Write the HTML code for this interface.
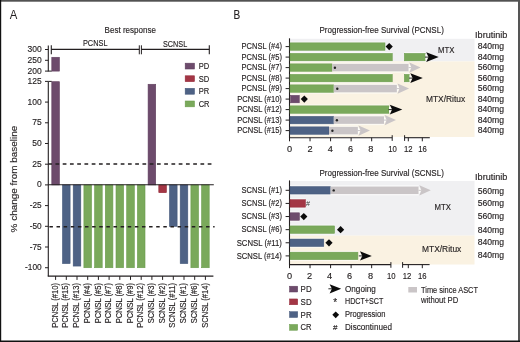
<!DOCTYPE html>
<html><head><meta charset="utf-8"><style>
html,body{margin:0;padding:0;background:#fff;}
body{width:520px;height:342px;overflow:hidden;position:relative;}
svg{position:absolute;left:0;top:0;will-change:transform;}
text{font-family:"Liberation Sans",sans-serif;fill:#231f20;stroke:#231f20;stroke-width:0.15px;}
</style></head><body>
<svg width="520" height="342" viewBox="0 0 520 342">
<rect x="0" y="0" width="520" height="342" fill="#fff"/>
<text x="9.7" y="18.9" font-size="12.6" text-anchor="start" textLength="7.6" lengthAdjust="spacingAndGlyphs" style="stroke-width:0">A</text>
<text x="104.6" y="33.3" font-size="9.3" text-anchor="start" textLength="51.4" lengthAdjust="spacingAndGlyphs" >Best response</text>
<text x="82.9" y="46.3" font-size="9" text-anchor="start" textLength="24.6" lengthAdjust="spacingAndGlyphs" >PCNSL</text>
<text x="163" y="46.5" font-size="9" text-anchor="start" textLength="24.2" lengthAdjust="spacingAndGlyphs" >SCNSL</text>
<line x1="51.3" y1="49.4" x2="139.3" y2="49.4" stroke="#231f20" stroke-width="1.1" />
<line x1="141.3" y1="49.4" x2="209.3" y2="49.4" stroke="#231f20" stroke-width="1.1" />
<line x1="51.3" y1="45.3" x2="51.3" y2="54.3" stroke="#231f20" stroke-width="1.1" />
<line x1="139.3" y1="45.3" x2="139.3" y2="54.3" stroke="#231f20" stroke-width="1" />
<line x1="141.4" y1="45.3" x2="141.4" y2="54.3" stroke="#231f20" stroke-width="1" />
<line x1="209.3" y1="45.3" x2="209.3" y2="54.3" stroke="#231f20" stroke-width="1.1" />
<line x1="48.3" y1="81.4" x2="48.3" y2="276.3" stroke="#231f20" stroke-width="1.1" />
<line x1="48.3" y1="45.6" x2="48.3" y2="71.4" stroke="#231f20" stroke-width="1.1" />
<line x1="45.0" y1="49.5" x2="48.3" y2="49.5" stroke="#231f20" stroke-width="1" />
<text x="41.7" y="52.05" font-size="9.3" text-anchor="end" textLength="14.16" lengthAdjust="spacingAndGlyphs" >300</text>
<line x1="45.0" y1="60.3" x2="48.3" y2="60.3" stroke="#231f20" stroke-width="1" />
<text x="41.7" y="62.849999999999994" font-size="9.3" text-anchor="end" textLength="14.16" lengthAdjust="spacingAndGlyphs" >250</text>
<line x1="45.0" y1="71.1" x2="48.3" y2="71.1" stroke="#231f20" stroke-width="1" />
<text x="41.7" y="73.64999999999999" font-size="9.3" text-anchor="end" textLength="14.16" lengthAdjust="spacingAndGlyphs" >200</text>
<line x1="48.3" y1="71.1" x2="51.8" y2="71.1" stroke="#231f20" stroke-width="1" />
<line x1="48.3" y1="81.4" x2="51.8" y2="81.4" stroke="#231f20" stroke-width="1" />
<line x1="45.0" y1="81.375" x2="48.3" y2="81.375" stroke="#231f20" stroke-width="1" />
<text x="41.7" y="83.925" font-size="9.3" text-anchor="end" textLength="14.16" lengthAdjust="spacingAndGlyphs" >125</text>
<line x1="45.0" y1="102.08" x2="48.3" y2="102.08" stroke="#231f20" stroke-width="1" />
<text x="41.7" y="104.63" font-size="9.3" text-anchor="end" textLength="14.16" lengthAdjust="spacingAndGlyphs" >100</text>
<line x1="45.0" y1="122.785" x2="48.3" y2="122.785" stroke="#231f20" stroke-width="1" />
<text x="41.7" y="125.335" font-size="9.3" text-anchor="end" textLength="9.44" lengthAdjust="spacingAndGlyphs" >75</text>
<line x1="45.0" y1="143.49" x2="48.3" y2="143.49" stroke="#231f20" stroke-width="1" />
<text x="41.7" y="146.04000000000002" font-size="9.3" text-anchor="end" textLength="9.44" lengthAdjust="spacingAndGlyphs" >50</text>
<line x1="45.0" y1="164.195" x2="48.3" y2="164.195" stroke="#231f20" stroke-width="1" />
<text x="41.7" y="166.745" font-size="9.3" text-anchor="end" textLength="9.44" lengthAdjust="spacingAndGlyphs" >25</text>
<line x1="45.0" y1="184.9" x2="48.3" y2="184.9" stroke="#231f20" stroke-width="1" />
<text x="41.7" y="187.45000000000002" font-size="9.3" text-anchor="end" textLength="4.72" lengthAdjust="spacingAndGlyphs" >0</text>
<line x1="45.0" y1="205.60500000000002" x2="48.3" y2="205.60500000000002" stroke="#231f20" stroke-width="1" />
<text x="41.7" y="208.15500000000003" font-size="9.3" text-anchor="end" textLength="11.94" lengthAdjust="spacingAndGlyphs" >-25</text>
<line x1="45.0" y1="226.31" x2="48.3" y2="226.31" stroke="#231f20" stroke-width="1" />
<text x="41.7" y="228.86" font-size="9.3" text-anchor="end" textLength="11.94" lengthAdjust="spacingAndGlyphs" >-50</text>
<line x1="45.0" y1="247.01500000000001" x2="48.3" y2="247.01500000000001" stroke="#231f20" stroke-width="1" />
<text x="41.7" y="249.56500000000003" font-size="9.3" text-anchor="end" textLength="11.94" lengthAdjust="spacingAndGlyphs" >-75</text>
<line x1="45.0" y1="267.72" x2="48.3" y2="267.72" stroke="#231f20" stroke-width="1" />
<text x="41.7" y="270.27000000000004" font-size="9.3" text-anchor="end" textLength="16.66" lengthAdjust="spacingAndGlyphs" >-100</text>
<text transform="translate(16.8,232.4) rotate(-90)" font-size="9.2" textLength="106.7" lengthAdjust="spacingAndGlyphs">% change from baseline</text>
<rect x="51.80" y="81.70" width="7.60" height="103.20" fill="#6d4b6c" stroke="#5f3e5e" stroke-width="0.6"/>
<rect x="51.80" y="57.28" width="7.60" height="13.82" fill="#6d4b6c" stroke="#5f3e5e" stroke-width="0.6"/>
<rect x="62.50" y="184.90" width="7.60" height="78.68" fill="#4e6285" stroke="#435779" stroke-width="0.6"/>
<rect x="73.20" y="184.90" width="7.60" height="81.16" fill="#4e6285" stroke="#435779" stroke-width="0.6"/>
<rect x="83.90" y="184.90" width="7.60" height="82.82" fill="#7aa95b" stroke="#6a9c4c" stroke-width="0.6"/>
<rect x="94.60" y="184.90" width="7.60" height="82.82" fill="#7aa95b" stroke="#6a9c4c" stroke-width="0.6"/>
<rect x="105.30" y="184.90" width="7.60" height="82.82" fill="#7aa95b" stroke="#6a9c4c" stroke-width="0.6"/>
<rect x="116.00" y="184.90" width="7.60" height="82.82" fill="#7aa95b" stroke="#6a9c4c" stroke-width="0.6"/>
<rect x="126.70" y="184.90" width="7.60" height="82.82" fill="#7aa95b" stroke="#6a9c4c" stroke-width="0.6"/>
<rect x="137.40" y="184.90" width="7.60" height="82.82" fill="#7aa95b" stroke="#6a9c4c" stroke-width="0.6"/>
<rect x="148.10" y="84.27" width="7.60" height="100.63" fill="#6d4b6c" stroke="#5f3e5e" stroke-width="0.6"/>
<rect x="158.80" y="184.90" width="7.60" height="7.79" fill="#a33645" stroke="#932838" stroke-width="0.6"/>
<rect x="169.50" y="184.90" width="7.60" height="41.41" fill="#4e6285" stroke="#435779" stroke-width="0.6"/>
<rect x="180.20" y="184.90" width="7.60" height="78.68" fill="#4e6285" stroke="#435779" stroke-width="0.6"/>
<rect x="190.90" y="184.90" width="7.60" height="82.82" fill="#7aa95b" stroke="#6a9c4c" stroke-width="0.6"/>
<rect x="201.60" y="184.90" width="7.60" height="82.82" fill="#7aa95b" stroke="#6a9c4c" stroke-width="0.6"/>
<line x1="48.2" y1="164.0" x2="211.6" y2="164.0" stroke="#231f20" stroke-width="1.5" stroke-dasharray="3.75 3.5"/>
<line x1="49.4" y1="226.8" x2="214.6" y2="226.8" stroke="#231f20" stroke-width="1.5" stroke-dasharray="3.5 3.62"/>
<line x1="48.3" y1="184.70000000000002" x2="213.8" y2="184.70000000000002" stroke="#231f20" stroke-width="1.1" />
<line x1="47.75" y1="276.1" x2="213.4" y2="276.1" stroke="#231f20" stroke-width="1.1" />
<line x1="55.599999999999994" y1="276.1" x2="55.599999999999994" y2="279.90000000000003" stroke="#231f20" stroke-width="1" />
<text transform="translate(57.70,283.0) rotate(-90)" font-size="9" text-anchor="end" textLength="44.7" lengthAdjust="spacingAndGlyphs">PCNSL (#10)</text>
<line x1="66.3" y1="276.1" x2="66.3" y2="279.90000000000003" stroke="#231f20" stroke-width="1" />
<text transform="translate(68.40,283.0) rotate(-90)" font-size="9" text-anchor="end" textLength="44.7" lengthAdjust="spacingAndGlyphs">PCNSL (#15)</text>
<line x1="76.99999999999999" y1="276.1" x2="76.99999999999999" y2="279.90000000000003" stroke="#231f20" stroke-width="1" />
<text transform="translate(79.10,283.0) rotate(-90)" font-size="9" text-anchor="end" textLength="44.7" lengthAdjust="spacingAndGlyphs">PCNSL (#13)</text>
<line x1="87.69999999999999" y1="276.1" x2="87.69999999999999" y2="279.90000000000003" stroke="#231f20" stroke-width="1" />
<text transform="translate(89.80,283.0) rotate(-90)" font-size="9" text-anchor="end" textLength="40.3" lengthAdjust="spacingAndGlyphs">PCNSL (#4)</text>
<line x1="98.39999999999999" y1="276.1" x2="98.39999999999999" y2="279.90000000000003" stroke="#231f20" stroke-width="1" />
<text transform="translate(100.50,283.0) rotate(-90)" font-size="9" text-anchor="end" textLength="40.3" lengthAdjust="spacingAndGlyphs">PCNSL (#5)</text>
<line x1="109.1" y1="276.1" x2="109.1" y2="279.90000000000003" stroke="#231f20" stroke-width="1" />
<text transform="translate(111.20,283.0) rotate(-90)" font-size="9" text-anchor="end" textLength="40.3" lengthAdjust="spacingAndGlyphs">PCNSL (#7)</text>
<line x1="119.79999999999998" y1="276.1" x2="119.79999999999998" y2="279.90000000000003" stroke="#231f20" stroke-width="1" />
<text transform="translate(121.90,283.0) rotate(-90)" font-size="9" text-anchor="end" textLength="40.3" lengthAdjust="spacingAndGlyphs">PCNSL (#8)</text>
<line x1="130.5" y1="276.1" x2="130.5" y2="279.90000000000003" stroke="#231f20" stroke-width="1" />
<text transform="translate(132.60,283.0) rotate(-90)" font-size="9" text-anchor="end" textLength="40.3" lengthAdjust="spacingAndGlyphs">PCNSL (#9)</text>
<line x1="141.2" y1="276.1" x2="141.2" y2="279.90000000000003" stroke="#231f20" stroke-width="1" />
<text transform="translate(143.30,283.0) rotate(-90)" font-size="9" text-anchor="end" textLength="44.7" lengthAdjust="spacingAndGlyphs">PCNSL (#12)</text>
<line x1="151.9" y1="276.1" x2="151.9" y2="279.90000000000003" stroke="#231f20" stroke-width="1" />
<text transform="translate(154.00,283.0) rotate(-90)" font-size="9" text-anchor="end" textLength="40.3" lengthAdjust="spacingAndGlyphs">SCNSL (#3)</text>
<line x1="162.60000000000002" y1="276.1" x2="162.60000000000002" y2="279.90000000000003" stroke="#231f20" stroke-width="1" />
<text transform="translate(164.70,283.0) rotate(-90)" font-size="9" text-anchor="end" textLength="40.3" lengthAdjust="spacingAndGlyphs">SCNSL (#2)</text>
<line x1="173.3" y1="276.1" x2="173.3" y2="279.90000000000003" stroke="#231f20" stroke-width="1" />
<text transform="translate(175.40,283.0) rotate(-90)" font-size="9" text-anchor="end" textLength="44.7" lengthAdjust="spacingAndGlyphs">SCNSL (#11)</text>
<line x1="184.0" y1="276.1" x2="184.0" y2="279.90000000000003" stroke="#231f20" stroke-width="1" />
<text transform="translate(186.10,283.0) rotate(-90)" font-size="9" text-anchor="end" textLength="40.3" lengthAdjust="spacingAndGlyphs">SCNSL (#1)</text>
<line x1="194.7" y1="276.1" x2="194.7" y2="279.90000000000003" stroke="#231f20" stroke-width="1" />
<text transform="translate(196.80,283.0) rotate(-90)" font-size="9" text-anchor="end" textLength="40.3" lengthAdjust="spacingAndGlyphs">SCNSL (#6)</text>
<line x1="205.39999999999998" y1="276.1" x2="205.39999999999998" y2="279.90000000000003" stroke="#231f20" stroke-width="1" />
<text transform="translate(207.50,283.0) rotate(-90)" font-size="9" text-anchor="end" textLength="44.7" lengthAdjust="spacingAndGlyphs">SCNSL (#14)</text>
<rect x="185.20" y="63.20" width="9.20" height="5.80" fill="#6d4b6c" stroke="#5f3e5e" stroke-width="0.6"/>
<text x="198.7" y="68.9" font-size="9.2" text-anchor="start" textLength="10.5" lengthAdjust="spacingAndGlyphs" >PD</text>
<rect x="185.20" y="75.80" width="9.20" height="5.80" fill="#a33645" stroke="#932838" stroke-width="0.6"/>
<text x="198.7" y="81.5" font-size="9.2" text-anchor="start" textLength="10.5" lengthAdjust="spacingAndGlyphs" >SD</text>
<rect x="185.20" y="88.40" width="9.20" height="5.80" fill="#4e6285" stroke="#435779" stroke-width="0.6"/>
<text x="198.7" y="94.10000000000001" font-size="9.2" text-anchor="start" textLength="10.5" lengthAdjust="spacingAndGlyphs" >PR</text>
<rect x="185.20" y="101.00" width="9.20" height="5.80" fill="#7aa95b" stroke="#6a9c4c" stroke-width="0.6"/>
<text x="198.7" y="106.7" font-size="9.2" text-anchor="start" textLength="10.8" lengthAdjust="spacingAndGlyphs" >CR</text>
<text x="233.5" y="18.9" font-size="12.6" text-anchor="start" textLength="6.7" lengthAdjust="spacingAndGlyphs" >B</text>
<text x="319.5" y="33.4" font-size="9.4" text-anchor="start" textLength="124.3" lengthAdjust="spacingAndGlyphs" >Progression-free Survival (PCNSL)</text>
<text x="475.1" y="37.7" font-size="9" text-anchor="start" textLength="32.3" lengthAdjust="spacingAndGlyphs" >Ibrutinib</text>
<rect x="290.00" y="38.80" width="184.50" height="22.60" fill="#f0f0f2"/>
<rect x="290.00" y="61.40" width="184.50" height="75.60" fill="#faf2e2"/>
<line x1="289.5" y1="38.3" x2="289.5" y2="138.2" stroke="#231f20" stroke-width="1.1" />
<line x1="285.6" y1="46.6" x2="289.5" y2="46.6" stroke="#231f20" stroke-width="1" />
<text x="281.9" y="49.300000000000004" font-size="9" text-anchor="end" textLength="40.3" lengthAdjust="spacingAndGlyphs" >PCNSL (#4)</text>
<text x="477.7" y="49.4" font-size="9" text-anchor="start" textLength="26.4" lengthAdjust="spacingAndGlyphs" >840mg</text>
<line x1="285.6" y1="57.1" x2="289.5" y2="57.1" stroke="#231f20" stroke-width="1" />
<text x="281.9" y="59.800000000000004" font-size="9" text-anchor="end" textLength="40.3" lengthAdjust="spacingAndGlyphs" >PCNSL (#5)</text>
<text x="477.7" y="59.9" font-size="9" text-anchor="start" textLength="26.4" lengthAdjust="spacingAndGlyphs" >840mg</text>
<line x1="285.6" y1="67.6" x2="289.5" y2="67.6" stroke="#231f20" stroke-width="1" />
<text x="281.9" y="70.3" font-size="9" text-anchor="end" textLength="40.3" lengthAdjust="spacingAndGlyphs" >PCNSL (#7)</text>
<text x="477.7" y="70.39999999999999" font-size="9" text-anchor="start" textLength="26.4" lengthAdjust="spacingAndGlyphs" >560mg</text>
<line x1="285.6" y1="78.1" x2="289.5" y2="78.1" stroke="#231f20" stroke-width="1" />
<text x="281.9" y="80.8" font-size="9" text-anchor="end" textLength="40.3" lengthAdjust="spacingAndGlyphs" >PCNSL (#8)</text>
<text x="477.7" y="80.89999999999999" font-size="9" text-anchor="start" textLength="26.4" lengthAdjust="spacingAndGlyphs" >560mg</text>
<line x1="285.6" y1="88.6" x2="289.5" y2="88.6" stroke="#231f20" stroke-width="1" />
<text x="281.9" y="91.3" font-size="9" text-anchor="end" textLength="40.3" lengthAdjust="spacingAndGlyphs" >PCNSL (#9)</text>
<text x="477.7" y="91.39999999999999" font-size="9" text-anchor="start" textLength="26.4" lengthAdjust="spacingAndGlyphs" >560mg</text>
<line x1="285.6" y1="99.1" x2="289.5" y2="99.1" stroke="#231f20" stroke-width="1" />
<text x="281.9" y="101.8" font-size="9" text-anchor="end" textLength="44.7" lengthAdjust="spacingAndGlyphs" >PCNSL (#10)</text>
<text x="477.7" y="101.89999999999999" font-size="9" text-anchor="start" textLength="26.4" lengthAdjust="spacingAndGlyphs" >840mg</text>
<line x1="285.6" y1="109.6" x2="289.5" y2="109.6" stroke="#231f20" stroke-width="1" />
<text x="281.9" y="112.3" font-size="9" text-anchor="end" textLength="44.7" lengthAdjust="spacingAndGlyphs" >PCNSL (#12)</text>
<text x="477.7" y="112.39999999999999" font-size="9" text-anchor="start" textLength="26.4" lengthAdjust="spacingAndGlyphs" >840mg</text>
<line x1="285.6" y1="120.1" x2="289.5" y2="120.1" stroke="#231f20" stroke-width="1" />
<text x="281.9" y="122.8" font-size="9" text-anchor="end" textLength="44.7" lengthAdjust="spacingAndGlyphs" >PCNSL (#13)</text>
<text x="477.7" y="122.89999999999999" font-size="9" text-anchor="start" textLength="26.4" lengthAdjust="spacingAndGlyphs" >840mg</text>
<line x1="285.6" y1="130.6" x2="289.5" y2="130.6" stroke="#231f20" stroke-width="1" />
<text x="281.9" y="133.29999999999998" font-size="9" text-anchor="end" textLength="44.7" lengthAdjust="spacingAndGlyphs" >PCNSL (#15)</text>
<text x="477.7" y="133.4" font-size="9" text-anchor="start" textLength="26.4" lengthAdjust="spacingAndGlyphs" >840mg</text>
<rect x="290.00" y="41.55" width="95.00" height="10.10" fill="#fff" fill-opacity="0.6"/>
<rect x="290.00" y="42.85" width="95.00" height="7.50" fill="#7aa95b" stroke="#6a9c4c" stroke-width="0.5"/>
<path d="M389.20,43.00 L392.80,46.60 L389.20,50.20 L385.60,46.60 Z" fill="#0b0b0b"/>
<rect x="290.00" y="52.05" width="102.30" height="10.10" fill="#fff" fill-opacity="0.6"/>
<rect x="290.00" y="53.35" width="102.30" height="7.50" fill="#7aa95b" stroke="#6a9c4c" stroke-width="0.5"/>
<rect x="404.30" y="52.05" width="21.20" height="10.10" fill="#fff" fill-opacity="0.6"/>
<rect x="404.30" y="53.35" width="21.20" height="7.50" fill="#7aa95b" stroke="#6a9c4c" stroke-width="0.5"/>
<path d="M425.40,53.20 L428.50,57.10 L425.40,61.00 Z" fill="#fdfdfb"/>
<path d="M426.20,52.15 L438.70,57.10 L426.20,62.05 L428.50,57.10 Z" fill="#0b0b0b"/>
<line x1="425.0" y1="57.1" x2="428.8" y2="57.1" stroke="#111" stroke-width="0.9" />
<rect x="290.00" y="62.55" width="42.20" height="10.10" fill="#fff" fill-opacity="0.6"/>
<rect x="290.00" y="63.85" width="42.20" height="7.50" fill="#7aa95b" stroke="#6a9c4c" stroke-width="0.5"/>
<rect x="332.20" y="62.55" width="76.60" height="10.10" fill="#fff" fill-opacity="0.6"/>
<rect x="332.20" y="63.85" width="76.60" height="7.50" fill="#cac5c7"/>
<path d="M408.70,63.70 L411.40,67.60 L408.70,71.50 Z" fill="#fdfdfb"/>
<path d="M409.30,62.50 L420.60,67.60 L409.30,72.70 L411.40,67.60 Z" fill="#cac5c7"/>
<line x1="408.5" y1="67.6" x2="411.70000000000005" y2="67.6" stroke="#cac5c7" stroke-width="1.0" />
<circle cx="334.90" cy="67.70" r="1.2" fill="#222"/>
<rect x="290.00" y="73.05" width="102.30" height="10.10" fill="#fff" fill-opacity="0.6"/>
<rect x="290.00" y="74.35" width="102.30" height="7.50" fill="#7aa95b" stroke="#6a9c4c" stroke-width="0.5"/>
<rect x="404.30" y="73.05" width="5.30" height="10.10" fill="#fff" fill-opacity="0.6"/>
<rect x="404.30" y="74.35" width="5.30" height="7.50" fill="#7aa95b" stroke="#6a9c4c" stroke-width="0.5"/>
<path d="M409.50,74.20 L412.60,78.10 L409.50,82.00 Z" fill="#fdfdfb"/>
<path d="M410.30,73.15 L422.80,78.10 L410.30,83.05 L412.60,78.10 Z" fill="#0b0b0b"/>
<line x1="409.1" y1="78.1" x2="412.90000000000003" y2="78.1" stroke="#111" stroke-width="0.9" />
<rect x="290.00" y="83.55" width="43.80" height="10.10" fill="#fff" fill-opacity="0.6"/>
<rect x="290.00" y="84.85" width="43.80" height="7.50" fill="#7aa95b" stroke="#6a9c4c" stroke-width="0.5"/>
<rect x="333.80" y="83.55" width="63.20" height="10.10" fill="#fff" fill-opacity="0.6"/>
<rect x="333.80" y="84.85" width="63.20" height="7.50" fill="#cac5c7"/>
<path d="M396.90,84.70 L399.60,88.60 L396.90,92.50 Z" fill="#fdfdfb"/>
<path d="M397.50,83.50 L409.10,88.60 L397.50,93.70 L399.60,88.60 Z" fill="#cac5c7"/>
<line x1="396.7" y1="88.6" x2="399.90000000000003" y2="88.6" stroke="#cac5c7" stroke-width="1.0" />
<circle cx="337.30" cy="88.70" r="1.2" fill="#222"/>
<rect x="290.50" y="94.05" width="8.80" height="10.10" fill="#fff" fill-opacity="0.6"/>
<rect x="290.50" y="95.35" width="8.80" height="7.50" fill="#6d4b6c" stroke="#5f3e5e" stroke-width="0.5"/>
<path d="M304.30,95.50 L307.90,99.10 L304.30,102.70 L300.70,99.10 Z" fill="#0b0b0b"/>
<rect x="290.00" y="104.55" width="99.10" height="10.10" fill="#fff" fill-opacity="0.6"/>
<rect x="290.00" y="105.85" width="99.10" height="7.50" fill="#7aa95b" stroke="#6a9c4c" stroke-width="0.5"/>
<path d="M389.00,105.70 L392.10,109.60 L389.00,113.50 Z" fill="#fdfdfb"/>
<path d="M389.80,104.65 L402.30,109.60 L389.80,114.55 L392.10,109.60 Z" fill="#0b0b0b"/>
<line x1="388.6" y1="109.6" x2="392.40000000000003" y2="109.6" stroke="#111" stroke-width="0.9" />
<rect x="290.00" y="115.05" width="43.80" height="10.10" fill="#fff" fill-opacity="0.6"/>
<rect x="290.00" y="116.35" width="43.80" height="7.50" fill="#4e6285" stroke="#435779" stroke-width="0.5"/>
<rect x="333.80" y="115.05" width="50.30" height="10.10" fill="#fff" fill-opacity="0.6"/>
<rect x="333.80" y="116.35" width="50.30" height="7.50" fill="#cac5c7"/>
<path d="M384.00,116.20 L386.70,120.10 L384.00,124.00 Z" fill="#fdfdfb"/>
<path d="M384.60,115.00 L396.00,120.10 L384.60,125.20 L386.70,120.10 Z" fill="#cac5c7"/>
<line x1="383.8" y1="120.1" x2="387.00000000000006" y2="120.1" stroke="#cac5c7" stroke-width="1.0" />
<circle cx="336.90" cy="120.20" r="1.2" fill="#222"/>
<rect x="290.00" y="125.55" width="39.00" height="10.10" fill="#fff" fill-opacity="0.6"/>
<rect x="290.00" y="126.85" width="39.00" height="7.50" fill="#4e6285" stroke="#435779" stroke-width="0.5"/>
<rect x="329.00" y="125.55" width="29.00" height="10.10" fill="#fff" fill-opacity="0.6"/>
<rect x="329.00" y="126.85" width="29.00" height="7.50" fill="#cac5c7"/>
<path d="M357.90,126.70 L360.60,130.60 L357.90,134.50 Z" fill="#fdfdfb"/>
<path d="M358.50,125.50 L370.00,130.60 L358.50,135.70 L360.60,130.60 Z" fill="#cac5c7"/>
<line x1="357.7" y1="130.6" x2="360.90000000000003" y2="130.6" stroke="#cac5c7" stroke-width="1.0" />
<circle cx="332.40" cy="130.70" r="1.2" fill="#222"/>
<text x="438.0" y="53.3" font-size="9.4" text-anchor="start" textLength="16.4" lengthAdjust="spacingAndGlyphs" >MTX</text>
<text x="425.9" y="101.9" font-size="9.3" text-anchor="start" textLength="39.3" lengthAdjust="spacingAndGlyphs" >MTX/Ritux</text>
<line x1="289.5" y1="137.7" x2="392.2" y2="137.7" stroke="#231f20" stroke-width="1.1" />
<line x1="404.6" y1="137.7" x2="429.8" y2="137.7" stroke="#231f20" stroke-width="1.1" />
<line x1="392.2" y1="135.2" x2="392.2" y2="140.89999999999998" stroke="#231f20" stroke-width="1" />
<line x1="404.6" y1="135.2" x2="404.6" y2="140.89999999999998" stroke="#231f20" stroke-width="1" />
<line x1="289.5" y1="137.7" x2="289.5" y2="141.29999999999998" stroke="#231f20" stroke-width="1" />
<line x1="310.04" y1="137.7" x2="310.04" y2="141.29999999999998" stroke="#231f20" stroke-width="1" />
<line x1="330.58" y1="137.7" x2="330.58" y2="141.29999999999998" stroke="#231f20" stroke-width="1" />
<line x1="351.12" y1="137.7" x2="351.12" y2="141.29999999999998" stroke="#231f20" stroke-width="1" />
<line x1="371.65999999999997" y1="137.7" x2="371.65999999999997" y2="141.29999999999998" stroke="#231f20" stroke-width="1" />
<line x1="408.3" y1="137.7" x2="408.3" y2="141.29999999999998" stroke="#231f20" stroke-width="1" />
<line x1="422.3" y1="137.7" x2="422.3" y2="141.29999999999998" stroke="#231f20" stroke-width="1" />
<text x="289.6" y="152.4" font-size="9.2" text-anchor="middle" >0</text>
<text x="310.0" y="152.4" font-size="9.2" text-anchor="middle" >2</text>
<text x="330.3" y="152.4" font-size="9.2" text-anchor="middle" >4</text>
<text x="350.6" y="152.4" font-size="9.2" text-anchor="middle" >6</text>
<text x="370.9" y="152.4" font-size="9.2" text-anchor="middle" >8</text>
<text x="392.6" y="152.4" font-size="9.2" text-anchor="middle" textLength="8.6" lengthAdjust="spacingAndGlyphs" >10</text>
<text x="408.3" y="152.4" font-size="9.2" text-anchor="middle" textLength="8.6" lengthAdjust="spacingAndGlyphs" >12</text>
<text x="422.6" y="152.4" font-size="9.2" text-anchor="middle" textLength="8.6" lengthAdjust="spacingAndGlyphs" >16</text>
<text x="319.5" y="175.8" font-size="9.4" text-anchor="start" textLength="124.3" lengthAdjust="spacingAndGlyphs" >Progression-free Survival (SCNSL)</text>
<text x="475.1" y="180.4" font-size="9" text-anchor="start" textLength="32.3" lengthAdjust="spacingAndGlyphs" >Ibrutinib</text>
<rect x="290.00" y="181.00" width="184.50" height="54.60" fill="#f0f0f2"/>
<rect x="290.00" y="235.60" width="184.50" height="28.90" fill="#faf2e2"/>
<line x1="289.5" y1="180.4" x2="289.5" y2="265.2" stroke="#231f20" stroke-width="1.1" />
<line x1="285.6" y1="190.3" x2="289.5" y2="190.3" stroke="#231f20" stroke-width="1" />
<text x="281.9" y="193.10000000000002" font-size="9" text-anchor="end" textLength="40.3" lengthAdjust="spacingAndGlyphs" >SCNSL (#1)</text>
<text x="477.7" y="193.6" font-size="9" text-anchor="start" textLength="26.4" lengthAdjust="spacingAndGlyphs" >560mg</text>
<line x1="285.6" y1="203.42000000000002" x2="289.5" y2="203.42000000000002" stroke="#231f20" stroke-width="1" />
<text x="281.9" y="206.22000000000003" font-size="9" text-anchor="end" textLength="40.3" lengthAdjust="spacingAndGlyphs" >SCNSL (#2)</text>
<text x="477.7" y="206.1" font-size="9" text-anchor="start" textLength="26.4" lengthAdjust="spacingAndGlyphs" >560mg</text>
<line x1="285.6" y1="216.54000000000002" x2="289.5" y2="216.54000000000002" stroke="#231f20" stroke-width="1" />
<text x="281.9" y="219.34000000000003" font-size="9" text-anchor="end" textLength="40.3" lengthAdjust="spacingAndGlyphs" >SCNSL (#3)</text>
<text x="477.7" y="219.4" font-size="9" text-anchor="start" textLength="26.4" lengthAdjust="spacingAndGlyphs" >560mg</text>
<line x1="285.6" y1="229.66000000000003" x2="289.5" y2="229.66000000000003" stroke="#231f20" stroke-width="1" />
<text x="281.9" y="232.46000000000004" font-size="9" text-anchor="end" textLength="40.3" lengthAdjust="spacingAndGlyphs" >SCNSL (#6)</text>
<text x="477.7" y="233.0" font-size="9" text-anchor="start" textLength="26.4" lengthAdjust="spacingAndGlyphs" >840mg</text>
<line x1="285.6" y1="242.78" x2="289.5" y2="242.78" stroke="#231f20" stroke-width="1" />
<text x="281.9" y="245.58" font-size="9" text-anchor="end" textLength="45.2" lengthAdjust="spacingAndGlyphs" >SCNSL (#11)</text>
<text x="477.7" y="245.3" font-size="9" text-anchor="start" textLength="26.4" lengthAdjust="spacingAndGlyphs" >840mg</text>
<line x1="285.6" y1="255.9" x2="289.5" y2="255.9" stroke="#231f20" stroke-width="1" />
<text x="281.9" y="258.7" font-size="9" text-anchor="end" textLength="45.2" lengthAdjust="spacingAndGlyphs" >SCNSL (#14)</text>
<text x="477.7" y="258.4" font-size="9" text-anchor="start" textLength="26.4" lengthAdjust="spacingAndGlyphs" >840mg</text>
<rect x="290.00" y="185.25" width="40.60" height="10.10" fill="#fff" fill-opacity="0.6"/>
<rect x="290.00" y="186.55" width="40.60" height="7.50" fill="#4e6285" stroke="#435779" stroke-width="0.5"/>
<rect x="330.60" y="185.25" width="88.20" height="10.10" fill="#fff" fill-opacity="0.6"/>
<rect x="330.60" y="186.55" width="88.20" height="7.50" fill="#cac5c7"/>
<path d="M418.70,186.40 L421.40,190.30 L418.70,194.20 Z" fill="#fdfdfb"/>
<path d="M419.30,185.15 L430.80,190.30 L419.30,195.45 L421.40,190.30 Z" fill="#cac5c7"/>
<line x1="418.5" y1="190.3" x2="421.70000000000005" y2="190.3" stroke="#cac5c7" stroke-width="1.0" />
<circle cx="333.70" cy="190.40" r="1.2" fill="#222"/>
<rect x="290.00" y="198.37" width="15.50" height="10.10" fill="#fff" fill-opacity="0.6"/>
<rect x="290.00" y="199.67" width="15.50" height="7.50" fill="#a33645" stroke="#932838" stroke-width="0.5"/>
<text x="305.9" y="206.02" font-size="7.2" text-anchor="start" style="fill:#3a3a3a;stroke-width:0">#</text>
<rect x="290.00" y="211.49" width="9.50" height="10.10" fill="#fff" fill-opacity="0.6"/>
<rect x="290.00" y="212.79" width="9.50" height="7.50" fill="#6d4b6c" stroke="#5f3e5e" stroke-width="0.5"/>
<path d="M303.80,212.94 L307.40,216.54 L303.80,220.14 L300.20,216.54 Z" fill="#0b0b0b"/>
<rect x="290.00" y="224.61" width="44.60" height="10.10" fill="#fff" fill-opacity="0.6"/>
<rect x="290.00" y="225.91" width="44.60" height="7.50" fill="#7aa95b" stroke="#6a9c4c" stroke-width="0.5"/>
<path d="M340.60,226.06 L344.20,229.66 L340.60,233.26 L337.00,229.66 Z" fill="#0b0b0b"/>
<rect x="290.00" y="237.73" width="33.80" height="10.10" fill="#fff" fill-opacity="0.6"/>
<rect x="290.00" y="239.03" width="33.80" height="7.50" fill="#4e6285" stroke="#435779" stroke-width="0.5"/>
<path d="M329.00,239.18 L332.60,242.78 L329.00,246.38 L325.40,242.78 Z" fill="#0b0b0b"/>
<rect x="290.00" y="250.85" width="67.90" height="10.10" fill="#fff" fill-opacity="0.6"/>
<rect x="290.00" y="252.15" width="67.90" height="7.50" fill="#7aa95b" stroke="#6a9c4c" stroke-width="0.5"/>
<path d="M359.20,252.00 L362.30,255.90 L359.20,259.80 Z" fill="#fdfdfb"/>
<path d="M360.00,251.25 L371.80,255.90 L360.00,260.55 L362.30,255.90 Z" fill="#0b0b0b"/>
<line x1="358.8" y1="255.9" x2="362.6" y2="255.9" stroke="#111" stroke-width="0.9" />
<text x="434.5" y="209.9" font-size="9.4" text-anchor="start" textLength="16.4" lengthAdjust="spacingAndGlyphs" >MTX</text>
<text x="422.0" y="252.2" font-size="9.3" text-anchor="start" textLength="39.3" lengthAdjust="spacingAndGlyphs" >MTX/Ritux</text>
<line x1="289.5" y1="264.6" x2="390.9" y2="264.6" stroke="#231f20" stroke-width="1.1" />
<line x1="402.6" y1="264.6" x2="429.6" y2="264.6" stroke="#231f20" stroke-width="1.1" />
<line x1="390.9" y1="262.1" x2="390.9" y2="267.8" stroke="#231f20" stroke-width="1" />
<line x1="402.6" y1="262.1" x2="402.6" y2="267.8" stroke="#231f20" stroke-width="1" />
<line x1="289.5" y1="264.6" x2="289.5" y2="268.20000000000005" stroke="#231f20" stroke-width="1" />
<line x1="310.04" y1="264.6" x2="310.04" y2="268.20000000000005" stroke="#231f20" stroke-width="1" />
<line x1="330.58" y1="264.6" x2="330.58" y2="268.20000000000005" stroke="#231f20" stroke-width="1" />
<line x1="351.12" y1="264.6" x2="351.12" y2="268.20000000000005" stroke="#231f20" stroke-width="1" />
<line x1="371.65999999999997" y1="264.6" x2="371.65999999999997" y2="268.20000000000005" stroke="#231f20" stroke-width="1" />
<line x1="408.3" y1="264.6" x2="408.3" y2="268.20000000000005" stroke="#231f20" stroke-width="1" />
<line x1="422.3" y1="264.6" x2="422.3" y2="268.20000000000005" stroke="#231f20" stroke-width="1" />
<text x="289.6" y="278.8" font-size="9.2" text-anchor="middle" >0</text>
<text x="309.6" y="278.8" font-size="9.2" text-anchor="middle" >2</text>
<text x="329.6" y="278.8" font-size="9.2" text-anchor="middle" >4</text>
<text x="349.6" y="278.8" font-size="9.2" text-anchor="middle" >6</text>
<text x="370.5" y="278.8" font-size="9.2" text-anchor="middle" >8</text>
<text x="391.3" y="278.8" font-size="9.2" text-anchor="middle" textLength="8.6" lengthAdjust="spacingAndGlyphs" >10</text>
<text x="407.0" y="278.8" font-size="9.2" text-anchor="middle" textLength="8.6" lengthAdjust="spacingAndGlyphs" >12</text>
<text x="422.2" y="278.8" font-size="9.2" text-anchor="middle" textLength="8.6" lengthAdjust="spacingAndGlyphs" >16</text>
<rect x="289.50" y="286.20" width="8.20" height="5.80" fill="#6d4b6c" stroke="#5f3e5e" stroke-width="0.5"/>
<text x="300.6" y="292.09999999999997" font-size="9.2" text-anchor="start" textLength="11.0" lengthAdjust="spacingAndGlyphs" >PD</text>
<rect x="289.50" y="298.95" width="8.20" height="5.80" fill="#a33645" stroke="#932838" stroke-width="0.5"/>
<text x="300.6" y="304.84999999999997" font-size="9.2" text-anchor="start" textLength="11.0" lengthAdjust="spacingAndGlyphs" >SD</text>
<rect x="289.50" y="311.70" width="8.20" height="5.80" fill="#4e6285" stroke="#435779" stroke-width="0.5"/>
<text x="300.6" y="317.59999999999997" font-size="9.2" text-anchor="start" textLength="11.0" lengthAdjust="spacingAndGlyphs" >PR</text>
<rect x="289.50" y="324.45" width="8.20" height="5.80" fill="#7aa95b" stroke="#6a9c4c" stroke-width="0.5"/>
<text x="300.6" y="330.34999999999997" font-size="9.2" text-anchor="start" textLength="11.0" lengthAdjust="spacingAndGlyphs" >CR</text>
<path d="M329.60,284.20 L341.20,288.80 L329.60,293.40 L331.90,288.80 Z" fill="#0b0b0b"/>
<line x1="328.40000000000003" y1="288.8" x2="332.20000000000005" y2="288.8" stroke="#111" stroke-width="0.9" />
<text x="335.2" y="306.2" font-size="10" text-anchor="middle">*</text>
<path d="M335.70,311.40 L339.10,314.80 L335.70,318.20 L332.30,314.80 Z" fill="#0b0b0b"/>
<text x="335.3" y="330.0" font-size="8" text-anchor="middle" >#</text>
<text x="345.0" y="291.6" font-size="9.2" text-anchor="start" textLength="30.8" lengthAdjust="spacingAndGlyphs" >Ongoing</text>
<text x="345.0" y="304.2" font-size="9.2" text-anchor="start" textLength="38.3" lengthAdjust="spacingAndGlyphs" >HDCT+SCT</text>
<text x="345.0" y="316.9" font-size="9.2" text-anchor="start" textLength="40.5" lengthAdjust="spacingAndGlyphs" >Progression</text>
<text x="345.0" y="329.6" font-size="9.2" text-anchor="start" textLength="47.0" lengthAdjust="spacingAndGlyphs" >Discontinued</text>
<rect x="408.30" y="287.00" width="8.70" height="5.50" fill="#cac5c7"/>
<text x="421.0" y="292.6" font-size="9.2" text-anchor="start" textLength="57.0" lengthAdjust="spacingAndGlyphs" >Time since ASCT</text>
<text x="421.0" y="302.7" font-size="9.2" text-anchor="start" textLength="37.3" lengthAdjust="spacingAndGlyphs" >without PD</text>
<rect x="0" y="0" width="520" height="1.7" fill="#525252"/>
<rect x="0" y="0" width="1.2" height="342" fill="#111"/>
<rect x="518" y="0" width="2" height="342" fill="#555"/>
<rect x="0" y="340.5" width="520" height="1.5" fill="#111"/>
</svg>
</body></html>
